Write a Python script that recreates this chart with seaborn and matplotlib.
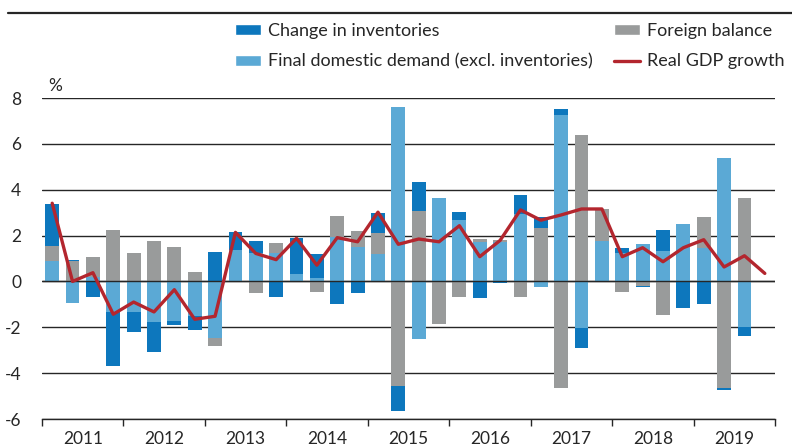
import numpy as np
import pandas as pd
import matplotlib
matplotlib.use("Agg")
import matplotlib.pyplot as plt
import seaborn as sns
from matplotlib.patches import Patch
from matplotlib.lines import Line2D

# ---------------- data ----------------
years = [2011, 2012, 2013, 2014, 2015, 2016, 2017, 2018, 2019]
quarters = [f"{y}Q{q}" for y in years for q in range(1, 5)]

# contributions to real GDP growth (percentage points), 2011Q1 .. 2019Q3
final_domestic_demand = [0.90, -0.92, 0.20, -1.34, -1.34, -1.78, -1.73, -1.50,
                         -2.45, 1.37, 1.22, 1.22, 0.32, 0.16, 1.95, 1.52,
                         1.20, 7.61, -2.49, 3.63, 2.70, 1.72, 1.72, 2.96,
                         -0.23, 7.24, -2.01, 1.78, 1.25, 1.63, 1.31, 2.52,
                         1.46, 5.39, -1.98]
foreign_balance = [0.66, 0.90, 0.86, 2.24, 1.24, 1.76, 1.50, 0.41,
                   -0.35, 0.00, -0.50, 0.47, 0.00, -0.45, 0.91, 0.68,
                   0.93, -4.58, 3.08, -1.84, -0.66, 0.12, 0.09, -0.66,
                   2.35, -4.64, 6.40, 1.37, -0.45, -0.19, -1.46, 0.00,
                   1.35, -4.66, 3.63]
change_in_inventories = [1.82, 0.05, -0.70, -2.33, -0.86, -1.30, -0.16, -0.60,
                         1.30, 0.80, 0.53, -0.70, 1.56, 1.04, -0.98, -0.50,
                         0.87, -1.05, 1.26, -0.03, 0.33, -0.74, -0.05, 0.82,
                         0.45, 0.28, -0.88, 0.03, 0.21, -0.04, 0.95, -1.14,
                         -0.98, -0.06, -0.42]
# real GDP growth, 2011Q1 .. 2019Q4
real_gdp_growth = [3.41, 0.00, 0.38, -1.43, -0.90, -1.33, -0.36, -1.65,
                   -1.52, 2.14, 1.22, 0.95, 1.88, 0.71, 1.91, 1.73,
                   3.02, 1.62, 1.85, 1.73, 2.43, 1.08, 1.79, 3.12,
                   2.67, 2.90, 3.16, 3.16, 1.08, 1.47, 0.86, 1.47,
                   1.82, 0.63, 1.12, 0.35]

series_labels = ["Change in inventories", "Final domestic demand (excl. inventories)",
                 "Foreign balance", "Real GDP growth"]
y_ticks = [-6, -4, -2, 0, 2, 4, 6, 8]

# ---------------- style ----------------
C_INV = "#0d77bd"
C_FDD = "#5ba9d5"
C_FOR = "#999b9b"
C_GDP = "#b3262e"
C_TXT = "#262626"

sns.set_theme(style="white")
plt.rcParams["font.family"] = ["Lato", "DejaVu Sans"]
plt.rcParams["axes.unicode_minus"] = False

W, H = 792, 446
fig = plt.figure(figsize=(W / 100, H / 100), dpi=100)
ax = fig.add_axes([42 / W, 1 - 419 / H, (775 - 42) / W, (419 - 98) / H])

n = len(final_domestic_demand)
xb = np.arange(n)
pos_base = np.zeros(n)
neg_base = np.zeros(n)
for vals, col in [(final_domestic_demand, C_FDD), (foreign_balance, C_FOR),
                  (change_in_inventories, C_INV)]:
    v = np.asarray(vals, dtype=float)
    bottom = np.where(v >= 0, pos_base, neg_base)
    sns.barplot(x=xb, y=v, bottom=bottom, native_scale=True, color=col,
                saturation=1, width=0.68, errorbar=None, linewidth=0,
                ax=ax, zorder=2)
    pos_base += np.clip(v, 0, None)
    neg_base += np.clip(v, None, 0)

gdp_df = pd.DataFrame({"q": np.arange(len(real_gdp_growth)), "g": real_gdp_growth})
sns.lineplot(data=gdp_df, x="q", y="g", color=C_GDP, linewidth=2.4, ax=ax,
             zorder=4)

# axes
ax.set_xlim(-0.5, len(quarters) - 0.5)
ax.set_ylim(-6, 8)
ax.set_yticks(y_ticks)
ax.set_yticklabels([str(t) for t in y_ticks])
ax.yaxis.grid(True, color=C_TXT, linewidth=1.0)
ax.set_axisbelow(True)
ax.axhline(0, color=C_TXT, linewidth=1.0, zorder=3)
ax.set_xlabel("")
ax.set_ylabel("")

major = [-0.5 + 4 * k for k in range(len(years) + 1)]
minor = [1.5 + 4 * k for k in range(len(years))]
ax.set_xticks(major)
ax.set_xticklabels([""] * len(major))
ax.set_xticks(minor, minor=True)
ax.set_xticklabels([str(y) for y in years], minor=True)
ax.tick_params(axis="x", which="major", length=5, width=1.0, color=C_TXT,
               direction="out", bottom=True)
ax.tick_params(axis="x", which="minor", length=0, pad=8.5, labelsize=12.5,
               labelcolor=C_TXT)
ax.tick_params(axis="y", length=0, pad=15, labelsize=12.5, labelcolor=C_TXT)
for lbl in ax.get_yticklabels():
    lbl.set_horizontalalignment("right")

for s in ["top", "right", "left"]:
    ax.spines[s].set_visible(False)
ax.spines["bottom"].set_color(C_TXT)
ax.spines["bottom"].set_linewidth(1.0)

fig.text(48 / W, 1 - 86 / H, "%", ha="left", va="center", fontsize=12.5,
         color=C_TXT)

# top rule
fig.add_artist(Line2D([8 / W, 1.0], [1 - 12.5 / H] * 2, color=C_TXT,
                      linewidth=1.6))

handles = [Patch(facecolor=C_INV), Patch(facecolor=C_FDD), Patch(facecolor=C_FOR),
           Line2D([0], [0], color=C_GDP, linewidth=2.4)]
fig.legend(handles, series_labels, ncol=2, loc="upper left",
           bbox_to_anchor=(235 / W, 1 - 23 / H), frameon=False, borderpad=0,
           borderaxespad=0, handlelength=1.45, handleheight=0.55,
           handletextpad=0.4, columnspacing=1.15, labelspacing=0.8,
           fontsize=13, labelcolor=C_TXT)

fig.savefig("out.png", dpi=100)
